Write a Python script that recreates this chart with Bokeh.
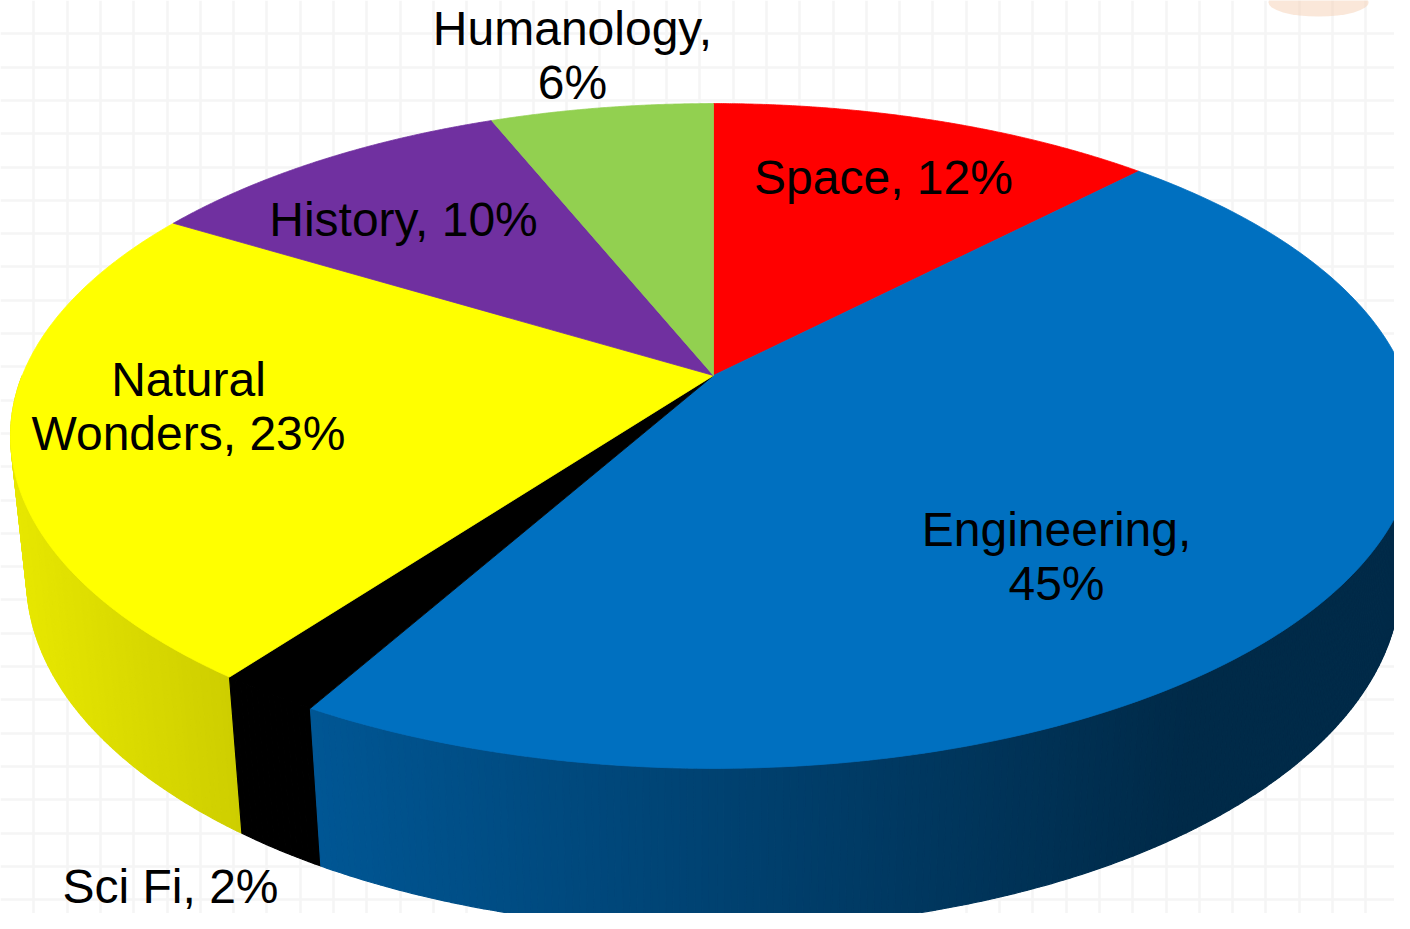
import numpy as np
from bokeh.plotting import figure
from bokeh.models import Range1d, SingleIntervalTicker
from bokeh.core.properties import value
from bokeh.embed import file_html
from bokeh.resources import INLINE

# ---------------- data ----------------
categories = ["Space", "Engineering", "Sci Fi", "Natural Wonders", "History", "Humanology"]
percents = [12, 45, 2, 23, 10, 6]
colors = ["#FF0000", "#0070C0", "#000000", "#FFFF00", "#7030A0", "#92D050"]

# ---------------- layout ----------------
# label text layout (line breaks) and label centres in picture pixels
label_templates = ["{c}, {p}%", "{c},\n{p}%", "{c}, {p}%", "Natural\nWonders, {p}%", "{c}, {p}%", "{c},\n{p}%"]
label_pos = [(883, 177), (1056, 556), (170, 886), (188, 406), (403, 219), (572, 55)]
LINE_H = 54
FONT = "Liberation Sans"
FONT_SIZE = "48px"

# perspective camera for the 3-D pie
CX, CY = 713.0, 375.0
F = 3362.0
SA, CA = 0.465, 0.885
DIST = 4.864
THICK = 0.235


def proj(theta, r=1.0, yh=0.0):
    X = r * np.sin(theta)
    Z = -r * np.cos(theta)
    depth = DIST - yh * SA - Z * CA
    sx = CX + F * X / depth
    sy = CY - F * (yh * CA - Z * SA) / depth
    return sx, sy


def shade(hexcol, f):
    h = hexcol.lstrip("#")
    r, g, b = (int(h[i:i + 2], 16) for i in (0, 2, 4))
    return "#%02x%02x%02x" % (int(r * f), int(g * f), int(b * f))


W, H = 1394, 913
p = figure(width=W, height=H, output_backend="svg", toolbar_location=None,
           x_range=Range1d(0, W), y_range=Range1d(H, 0),
           min_border=0, outline_line_color=None, background_fill_color="white",
           border_fill_color="white")
p.axis.visible = False
p.xgrid.ticker = SingleIntervalTicker(interval=33.3)
p.ygrid.ticker = SingleIntervalTicker(interval=33.3)
p.grid.grid_line_color = "#f5f5f5"
p.grid.grid_line_width = 2.5

# faint decoration in the corner
p.ellipse(x=[1318], y=[2], width=[100], height=[28], fill_color="#f6cfb4",
          fill_alpha=0.5, line_color=None)

total = float(sum(percents))
bounds = np.concatenate([[0.0], np.cumsum(percents) / total]) * 2 * np.pi

# ---------- side wall (front half), drawn far to near ----------
strips = []
lo, hi = np.pi / 2, 3 * np.pi / 2
for i, col in enumerate(colors):
    a0, a1 = max(bounds[i], lo), min(bounds[i + 1], hi)
    if a1 <= a0:
        continue
    n = max(2, int(np.degrees(a1 - a0) / 0.5))
    th = np.linspace(a0, a1, n + 1)
    for k in range(n):
        ta, tb = th[k], th[k + 1]
        xa, ya = proj(ta)
        xb, yb = proj(tb)
        xc, yc = proj(tb, yh=-THICK)
        xd, yd = proj(ta, yh=-THICK)
        mx = (xa + xb) / 2
        f = float(np.clip(0.9 - 0.00045 * (mx - 30), 0.38, 0.95))
        c = shade(col, f)
        key = np.cos((ta + tb) / 2)
        strips.append((key, [xa, xb, xc, xd], [ya, yb, yc, yd], c))
strips.sort(key=lambda s: -s[0])
p.patches(xs=[s[1] for s in strips], ys=[s[2] for s in strips],
          fill_color=[s[3] for s in strips], line_color=[s[3] for s in strips],
          line_width=1.2)

# ---------- top faces ----------
txs, tys = [], []
for i in range(len(percents)):
    th = np.linspace(bounds[i], bounds[i + 1], 200)
    sx, sy = proj(th)
    txs.append([CX] + list(sx))
    tys.append([CY] + list(sy))
p.patches(xs=txs, ys=tys, fill_color=colors, line_color=colors, line_width=0.8)

# ---------- labels ----------
lx, ly, lt = [], [], []
for i, (c, pc) in enumerate(zip(categories, percents)):
    lines = label_templates[i].format(c=c, p=pc).split("\n")
    x0, y0 = label_pos[i]
    n = len(lines)
    for j, ln in enumerate(lines):
        lx.append(x0)
        ly.append(y0 + (j - (n - 1) / 2) * LINE_H)
        lt.append(ln)
p.text(x=lx, y=ly, text=lt, text_font=value(FONT), text_font_size=FONT_SIZE,
       text_align="center", text_baseline="middle", text_color="black")

open("out.html", "w").write(file_html(p, INLINE))
